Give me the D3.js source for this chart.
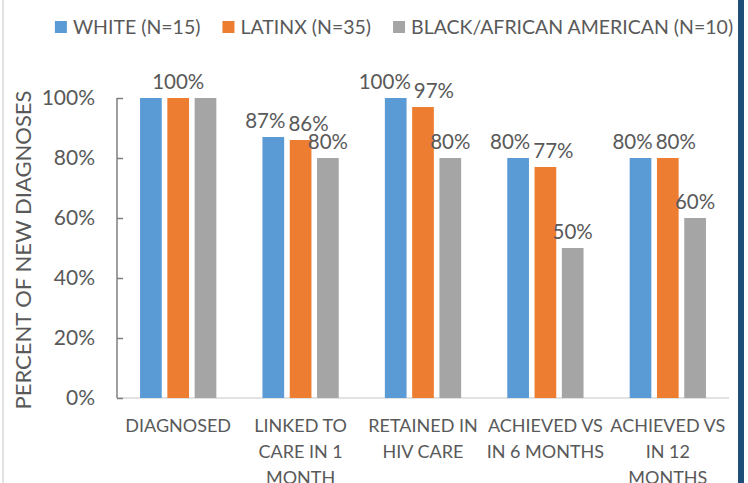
<!DOCTYPE html>
<html>
<head>
<meta charset="utf-8">
<script src="https://cdn.jsdelivr.net/npm/d3@7"></script>
<style>
  body { margin: 0; background: #fff; }
  text { font-family: Lato, 'Open Sans', sans-serif; fill: #595959; }
</style>
</head>
<body>
<div id="chart"></div>
<script>
// data
let categories = ['DIAGNOSED', 'LINKED', 'RETAINED', 'VS6', 'VS12']
let categoryLabels = [
  ['DIAGNOSED'],
  ['LINKED TO', 'CARE IN 1', 'MONTH'],
  ['RETAINED IN', 'HIV CARE'],
  ['ACHIEVED VS', 'IN 6 MONTHS'],
  ['ACHIEVED VS', 'IN 12', 'MONTHS']
]
let seriesNames = ['WHITE (N=15)', 'LATINX (N=35)', 'BLACK/AFRICAN AMERICAN (N=10)']
let white = [100, 87, 100, 80, 80]
let latinx = [100, 86, 97, 77, 80]
let black = [100, 80, 80, 50, 60]
// labels shown above bars (diagnosed shows only the middle one)
let showLabel = [
  [false, true, true, true, true],
  [true, true, true, true, true],
  [false, true, true, true, true]
]
let yTicks = [0, 20, 40, 60, 80, 100]

let colors = ['#5B9BD5', '#ED7D31', '#A5A5A5']

let width = 748
let height = 483
let margin = { top: 98, right: 19, bottom: 85, left: 117 }

let svg = d3.select('#chart')
  .append('svg')
  .attr('width', width)
  .attr('height', height)

svg.append('rect').attr('width', width).attr('height', height).attr('fill', '#ffffff')

let series = [white, latinx, black]

let x0 = d3.scaleBand()
  .domain(categories)
  .range([margin.left, width - margin.right])

let x1 = d3.scaleBand()
  .domain(d3.range(series.length))
  .range([0, x0.bandwidth()])
  .paddingInner(0.205)
  .paddingOuter(0.845)

let y = d3.scaleLinear()
  .domain([0, 100])
  .range([height - margin.bottom, margin.top])

// baseline
svg.append('line')
  .attr('x1', x0.range()[0]).attr('x2', x0.range()[1])
  .attr('y1', y(0)).attr('y2', y(0))
  .attr('stroke', '#d9d9d9').attr('stroke-width', 1.5)

// y axis
let yAxis = d3.axisLeft(y)
  .tickValues(yTicks)
  .tickSize(-6)
  .tickPadding(22)
  .tickFormat(d => d + '%')

let yG = svg.append('g')
  .attr('transform', 'translate(' + margin.left + ',0)')
  .call(yAxis)
yG.select('.domain').attr('stroke', '#7f7f7f').attr('stroke-width', 1.5)
  .attr('d', 'M0,' + y(100) + 'V' + y(0))
yG.selectAll('.tick line').attr('stroke', '#7f7f7f').attr('stroke-width', 1.5)
yG.selectAll('.tick text')
  .attr('fill', '#595959')
  .style('font-size', '21px')
  .style('font-family', 'Lato, sans-serif')

// y title
svg.append('text')
  .attr('transform', 'translate(31,' + ((y(0) + y(100)) / 2 + 2) + ') rotate(-90)')
  .attr('text-anchor', 'middle')
  .style('font-size', '22px')
  .text('PERCENT OF NEW DIAGNOSES')

// bars
let groups = svg.append('g')
  .selectAll('g.cat')
  .data(categories)
  .enter()
  .append('g')
  .attr('class', 'cat')
  .attr('transform', d => 'translate(' + x0(d) + ',0)')

groups.each(function (c, ci) {
  let g = d3.select(this)
  let labels = []
  series.forEach(function (s, si) {
    g.append('rect')
      .attr('x', x1(si))
      .attr('y', y(s[ci]))
      .attr('width', x1.bandwidth())
      .attr('height', y(0) - y(s[ci]))
      .attr('fill', colors[si])
    if (showLabel[si][ci]) {
      let t = g.append('text')
        .attr('y', y(s[ci]) - 9)
        .attr('text-anchor', 'middle')
        .style('font-size', '20.5px')
        .text(s[ci] + '%')
      labels.push({
        node: t,
        cx: x1(si) + x1.bandwidth() / 2,
        cy: y(s[ci]),
        w: t.node().getComputedTextLength()
      })
    }
  })
  // push apart labels that sit on about the same height
  for (let k = 0; k < 3; k++) {
    for (let i = 1; i < labels.length; i++) {
      let a = labels[i - 1]
      let b = labels[i]
      if (Math.abs(a.cy - b.cy) > 15) continue
      let ov = (a.cx + a.w / 2 + 3) - (b.cx - b.w / 2)
      if (ov > 0) {
        a.cx -= ov / 2
        b.cx += ov / 2
      }
    }
  }
  labels.forEach(l => l.node.attr('x', l.cx))

  // category label
  let t = g.append('text')
    .attr('text-anchor', 'middle')
    .style('font-size', '18px')
  categoryLabels[ci].forEach(function (line, li) {
    t.append('tspan')
      .attr('x', x0.bandwidth() / 2)
      .attr('y', y(0) + 34 + li * 26)
      .text(line)
  })
})

// legend
let legend = svg.append('g')
let lx = 0
seriesNames.forEach(function (name, i) {
  let item = legend.append('g').attr('transform', 'translate(' + lx + ',0)')
  item.append('rect')
    .attr('x', 0).attr('y', -6)
    .attr('width', 12).attr('height', 12)
    .attr('fill', colors[i])
  let txt = item.append('text')
    .attr('x', 18)
    .attr('y', 7)
    .style('font-size', '19.5px')
    .text(name)
  lx += 18 + txt.node().getComputedTextLength() + 22
})
let legendWidth = lx - 22
legend.attr('transform', 'translate(' + (394 - legendWidth / 2) + ',27)')

// frame lines
svg.append('line')
  .attr('x1', 3).attr('x2', 3).attr('y1', 0).attr('y2', height)
  .attr('stroke', '#d9d9d9').attr('stroke-width', 1.5)
svg.append('rect')
  .attr('x', 738).attr('y', 0).attr('width', 6).attr('height', height)
  .attr('fill', '#1f4e79')
</script>
</body>
</html>
